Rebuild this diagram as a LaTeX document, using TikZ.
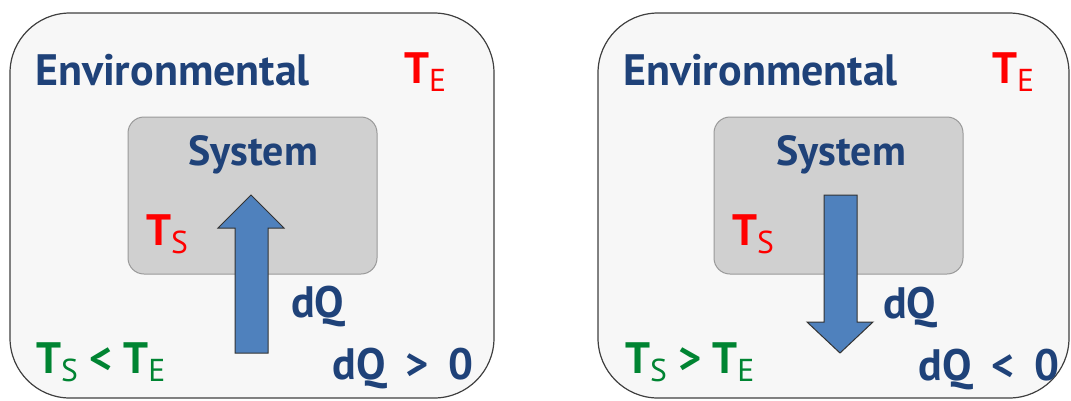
\documentclass[tikz,border=0pt]{standalone}
\usepackage{fontspec}
\setmainfont{PT Sans}
\definecolor{txtblue}{HTML}{1F4279}
\definecolor{tred}{HTML}{FF0000}
\definecolor{tgreen}{HTML}{008432}
\definecolor{arrowblue}{HTML}{4F81BD}
\definecolor{envfill}{HTML}{F7F7F7}
\definecolor{sysfill}{HTML}{D0D0D0}
\newcommand\lowsub[1]{\raisebox{-0.19em}{\scalebox{0.72}{\mdseries #1}}}
\newcommand\gapsp{\hspace{0.45em}}
\tikzset{
  envbox/.style={draw=black!75, line width=1.2pt, fill=envfill, rounded corners=60pt},
  sysbox/.style={draw=black!40, line width=1pt, fill=sysfill, rounded corners=16pt},
  heatarrow/.style={draw=black!80, line width=1pt, fill=arrowblue},
  lbl/.style={inner sep=0pt, font=\bfseries\fontsize{44}{44}\selectfont},
  syslbl/.style={anchor=base west, inner sep=0pt, font=\bfseries\fontsize{42}{42}\selectfont},
}
\begin{document}
\begin{tikzpicture}[x=1pt,y=-1pt]
\useasboundingbox (0,0) rectangle (1071,400);
% left panel
\draw[envbox] (10,13) rectangle (494,398);
\draw[sysbox] (128,117) rectangle (377,274);
\draw[heatarrow] (235,353) -- (235,228) -- (218,228) -- (251,195) -- (284,228) -- (268,228) -- (268,353) -- cycle;
\node[lbl, anchor=base west, text=txtblue] (envL) at (35,85) {Environmental};
\node[lbl, anchor=base west, text=tred] (teL) at (404,83) {T\lowsub{E}};
\node[syslbl, text=txtblue] (sysL) at (188,165) {System};
\node[lbl, anchor=base west, text=tred] (tsL) at (146,245) {T\lowsub{S}};
\node[lbl, anchor=base west, text=txtblue] (dqL) at (291,317) {dQ};
\node[lbl, anchor=base east, text=txtblue] (dqgt) at (474,379) {dQ\gapsp{}>\gapsp{}0};
\node[lbl, anchor=base west, text=tgreen] (condL) at (36,373) {T\lowsub{S} < T\lowsub{E}};
% right panel
\draw[envbox] (598,13) rectangle (1069,398);
\draw[sysbox] (714,117) rectangle (963,274);
\draw[heatarrow] (824,195) -- (857,195) -- (857,322) -- (873,322) -- (840,353) -- (807,322) -- (824,322) -- cycle;
\node[lbl, anchor=base west, text=txtblue] (envR) at (623,85) {Environmental};
\node[lbl, anchor=base west, text=tred] (teR) at (992,83) {T\lowsub{E}};
\node[syslbl, text=txtblue] (sysR) at (776,165) {System};
\node[lbl, anchor=base west, text=tred] (tsR) at (732,245) {T\lowsub{S}};
\node[lbl, anchor=base west, text=txtblue] (dqR) at (883,318) {dQ};
\node[lbl, anchor=base east, text=txtblue] (dqlt) at (1060,380) {dQ\gapsp{}<\gapsp{}0};
\node[lbl, anchor=base west, text=tgreen] (condR) at (625,373) {T\lowsub{S} > T\lowsub{E}};
\end{tikzpicture}
\end{document}
